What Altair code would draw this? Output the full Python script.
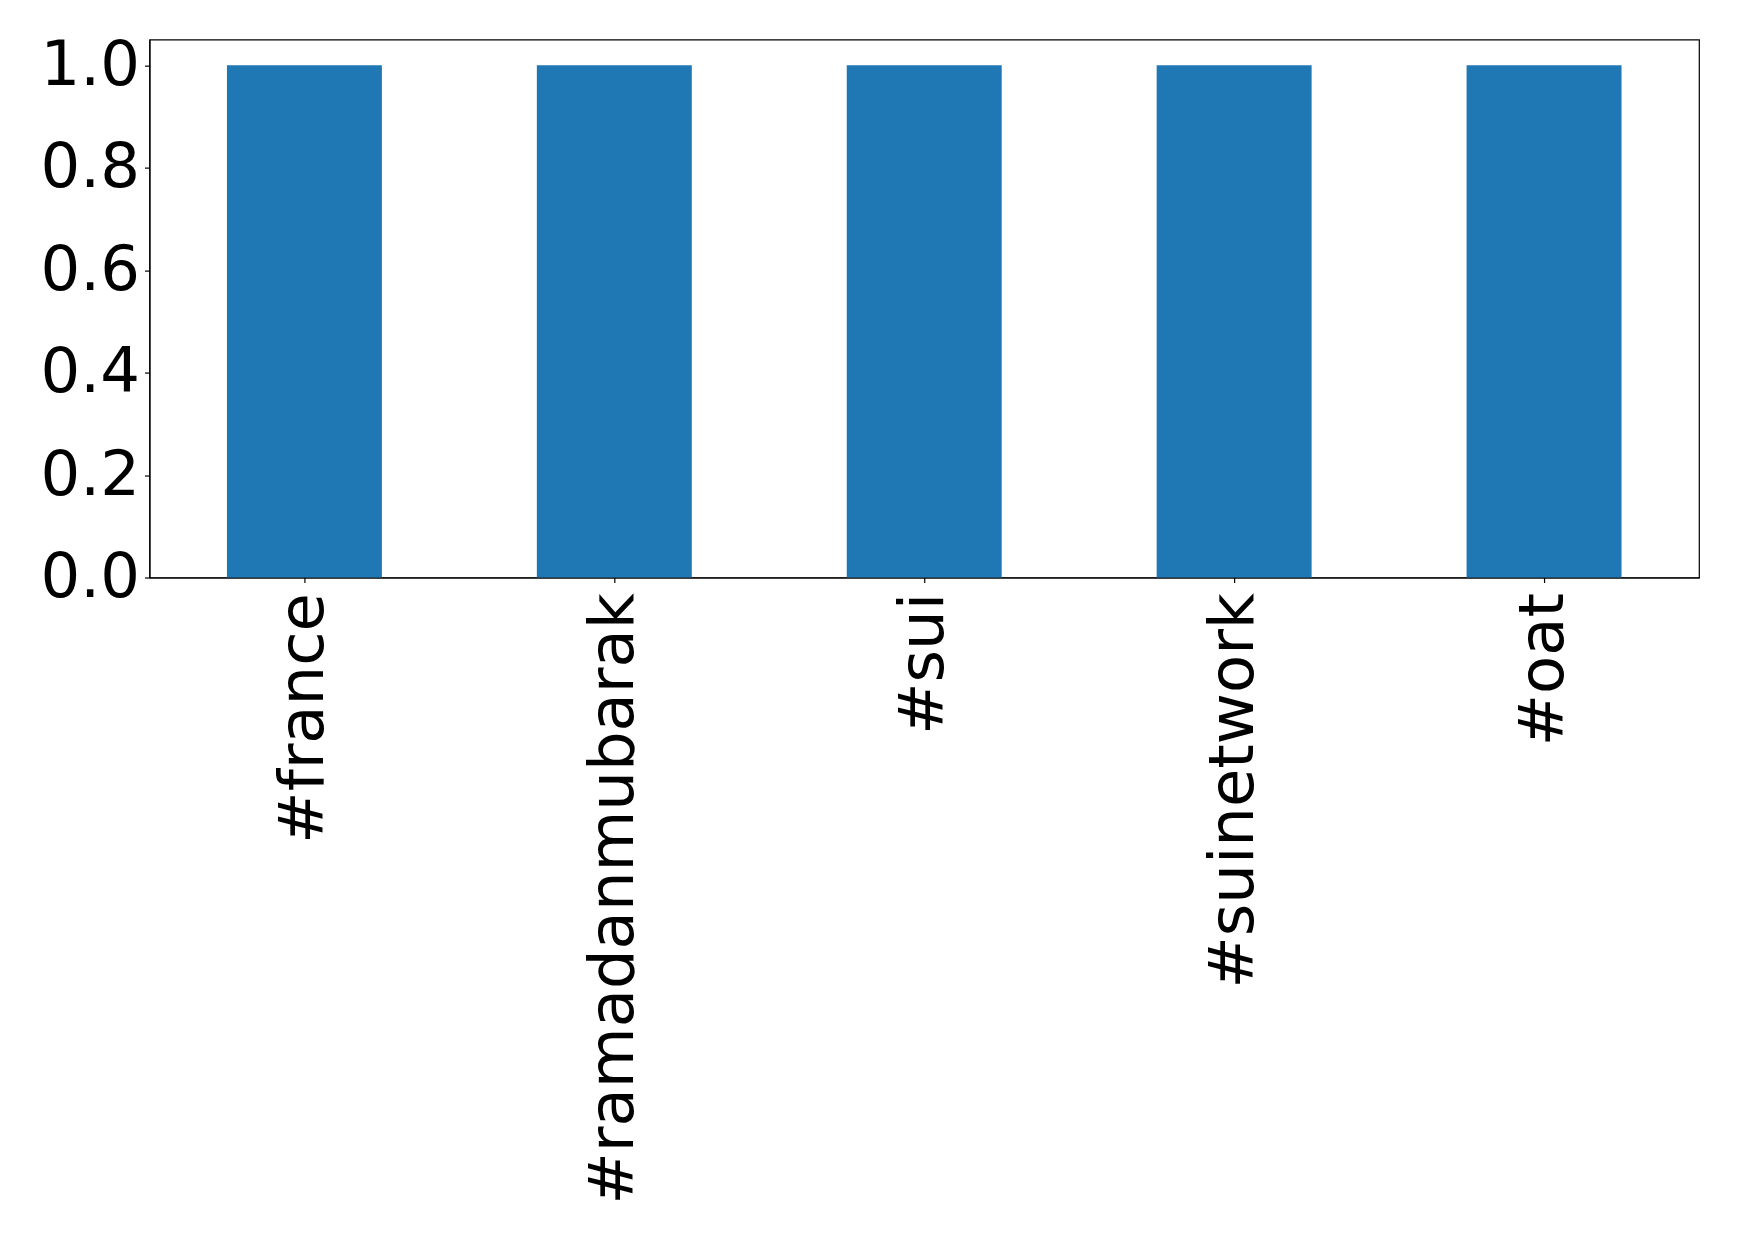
import altair as alt
import pandas as pd

categories = ["#france", "#ramadanmubarak", "#sui", "#suinetwork", "#oat"]
values = [1, 1, 1, 1, 1]
y_ticks = [0.0, 0.2, 0.4, 0.6, 0.8, 1.0]

df = pd.DataFrame({"tag": categories, "count": values})

chart = alt.Chart(df).mark_bar(color="#1f77b4").encode(
    x=alt.X("tag:N", sort=categories, title=None,
            scale=alt.Scale(paddingInner=0.5, paddingOuter=0.25),
            axis=alt.Axis(labelAngle=270, labelFontSize=62.5, labelFont="DejaVu Sans",
                          labelColor="black", tickColor="black", tickSize=5,
                          labelPadding=10, domainColor="black", domainWidth=1.2,
                          tickWidth=1.2, labelLimit=0)),
    y=alt.Y("count:Q", title=None,
            scale=alt.Scale(domain=[0, 1.05], nice=False, zero=True),
            axis=alt.Axis(values=y_ticks, format=".1f", labelFontSize=62.5,
                          labelFont="DejaVu Sans", labelColor="black",
                          tickColor="black", tickSize=5, labelPadding=5,
                          domainColor="black", domainWidth=1.2, tickWidth=1.2,
                          grid=False)),
).properties(
    width=1550, height=538,
    background="white",
    autosize=alt.AutoSizeParams(type="none"),
    padding={"left": 141.5, "top": 31.5, "right": 32, "bottom": 640},
).configure_view(stroke="black", strokeWidth=1.2)

chart.save("out.html", embed_options={"renderer": "svg", "actions": False})
